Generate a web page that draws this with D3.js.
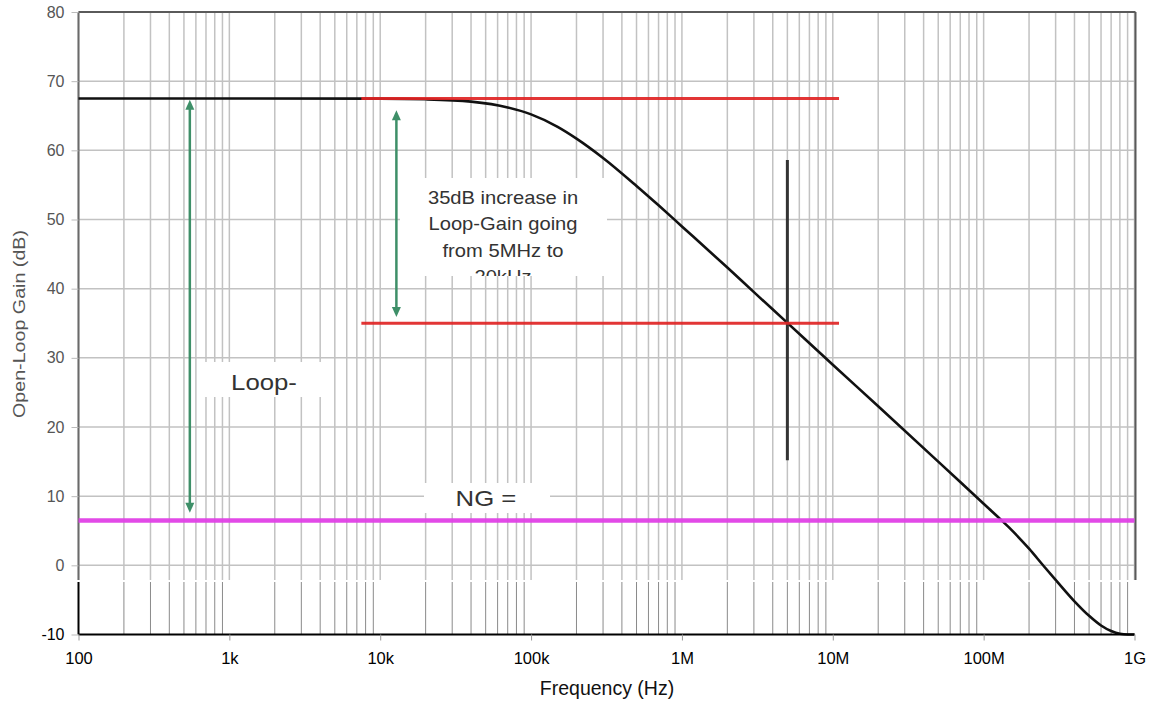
<!DOCTYPE html>
<html>
<head>
<meta charset="utf-8">
<script src="https://cdn.jsdelivr.net/npm/d3@7"></script>
<style>
  html, body { margin: 0; padding: 0; background: #fff; }
  svg { display: block; font-family: "Liberation Sans", Arial, sans-serif; }
</style>
</head>
<body>
<svg id="chart" width="1157" height="707"></svg>
<script>
// ---- data ----
const decadeTicks = [1e2, 1e3, 1e4, 1e5, 1e6, 1e7, 1e8, 1e9];
const decadeLabels = ["100", "1k", "10k", "100k", "1M", "10M", "100M", "1G"];
const yTicks = [-10, 0, 10, 20, 30, 40, 50, 60, 70, 80];
const yLabels = ["-10", "0", "10", "20", "30", "40", "50", "60", "70", "80"];

// open-loop gain curve
const curveFreq = [1e2, 1e3, 1e4, 2e4, 4e4, 7e4, 1e5, 1.5e5, 2e5, 3e5, 5e5, 7e5, 1e6, 2e6, 3e6, 5e6, 1e7, 2e7, 5e7, 1e8, 1.3e8, 1.5e8, 2e8, 2.5e8, 3e8, 4e8, 5e8, 6e8, 7e8, 8e8, 9e8, 1e9];
const curveGain = [67.5, 67.5, 67.47, 67.38, 67.04, 66.2, 65.2, 63.4, 61.7, 58.9, 54.85, 52.05, 49.0, 43.05, 39.5, 35.05, 29.0, 23.0, 15.0, 8.9, 6.6, 5.3, 2.4, -0.1, -2.1, -5.2, -7.3, -8.7, -9.5, -9.9, -10, -10];

// annotation values
const redLevels = [67.5, 35];
const redFreqRange = [7.5e3, 1.1e7];
const ngLevel = 6.5;
const markerFreq = 5e6;
const markerRange = [58.6, 15.2];
const arrows = [
  { freq: 547, top: 67.3, bottom: 7.6 },
  { freq: 1.28e4, top: 65.8, bottom: 35.9 }
];
const boxText = ["35dB increase in", "Loop-Gain going", "from 5MHz to", "20kHz"];
const loopText = "Loop-";
const ngText = "NG =";

// ---- scales ----
const svg = d3.select("#chart");
const x = d3.scaleLog().domain([1e2, 1e9]).range([78.5, 1134.5]);
const y = d3.scaleLinear().domain([-10, 80]).range([634.5, 12]);
const splitY = 580; // upper (gridded) / lower region boundary
const stretch = 1.12;

// minor frequencies
const minorFreqs = [];
for (let d = 2; d < 9; d++) {
  for (let m = 2; m <= 9; m++) minorFreqs.push(m * Math.pow(10, d));
}
const allGridFreqs = decadeTicks.concat(minorFreqs);

// ---- upper region grid ----
const grid = svg.append("g");
grid.selectAll("line.vg").data(allGridFreqs).join("line")
  .attr("x1", d => x(d)).attr("x2", d => x(d))
  .attr("y1", y(80)).attr("y2", splitY)
  .attr("stroke", "#c2c2c2").attr("stroke-width", 1.5);
grid.selectAll("line.hg").data(yTicks.filter(v => v >= 0)).join("line")
  .attr("x1", x(1e2)).attr("x2", x(1e9))
  .attr("y1", d => y(d)).attr("y2", d => y(d))
  .attr("stroke", "#c2c2c2").attr("stroke-width", 1.5);

// ---- lower region grid ----
grid.selectAll("line.lg").data(minorFreqs).join("line")
  .attr("x1", d => x(d)).attr("x2", d => x(d))
  .attr("y1", splitY + 2).attr("y2", y(-10))
  .attr("stroke", "#8a8a8a").attr("stroke-width", 1);

// ---- frame ----
svg.append("line").attr("x1", x(1e2)).attr("x2", x(1e9) + 1).attr("y1", y(80)).attr("y2", y(80))
  .attr("stroke", "#5a5a5a").attr("stroke-width", 2);
svg.append("line").attr("x1", x(1e9) + 1).attr("x2", x(1e9) + 1).attr("y1", y(80)).attr("y2", splitY)
  .attr("stroke", "#5a5a5a").attr("stroke-width", 2);
svg.append("line").attr("x1", x(1e2)).attr("x2", x(1e2)).attr("y1", y(80)).attr("y2", splitY)
  .attr("stroke", "#6a6a6a").attr("stroke-width", 2);
svg.append("line").attr("x1", x(1e2)).attr("x2", x(1e2)).attr("y1", splitY + 2).attr("y2", y(-10))
  .attr("stroke", "#000").attr("stroke-width", 2);

// ---- text boxes (white backgrounds) ----
const boxClip = svg.append("clipPath").attr("id", "boxclip");
boxClip.append("rect").attr("x", 400).attr("y", 178).attr("width", 207).attr("height", 98);
svg.append("rect").attr("x", 400).attr("y", 178).attr("width", 207).attr("height", 98).attr("fill", "#fff");
svg.append("rect").attr("x", 201).attr("y", 362).attr("width", 122).attr("height", 35).attr("fill", "#fff");
svg.append("rect").attr("x", 424).attr("y", 483).attr("width", 126).attr("height", 30).attr("fill", "#fff");

function stretchedText(parent, cx, by, size, str, fill) {
  return parent.append("text")
    .attr("transform", `translate(${cx},${by}) scale(${stretch},1)`)
    .attr("text-anchor", "middle").attr("font-size", size).attr("fill", fill)
    .text(str);
}
const bt = svg.append("g").attr("clip-path", "url(#boxclip)");
boxText.forEach((t, i) => stretchedText(bt, 503, 203.5 + i * 26.6, 18, t, "#333"));
stretchedText(svg, 264, 390, 23, loopText, "#333");
stretchedText(svg, 486, 506, 23, ngText, "#333");

// ---- gain curve ----
const pts = curveFreq.map((f, i) => [f, curveGain[i]]);
svg.append("path").datum(pts)
  .attr("d", d3.line().x(d => x(d[0])).y(d => y(d[1])).curve(d3.curveMonotoneX))
  .attr("fill", "none").attr("stroke", "#111").attr("stroke-width", 2.6);

// ---- vertical marker at 5 MHz ----
svg.append("line").attr("x1", x(markerFreq)).attr("x2", x(markerFreq))
  .attr("y1", y(markerRange[0])).attr("y2", y(markerRange[1]))
  .attr("stroke", "#333").attr("stroke-width", 3);

// ---- red reference lines ----
svg.selectAll("line.red").data(redLevels).join("line")
  .attr("x1", x(redFreqRange[0])).attr("x2", x(redFreqRange[1]))
  .attr("y1", d => y(d)).attr("y2", d => y(d))
  .attr("stroke", "#e02424").attr("stroke-width", 3).attr("stroke-opacity", 0.92);

// ---- NG line ----
svg.append("line").attr("x1", x(1e2)).attr("x2", x(1e9))
  .attr("y1", y(ngLevel)).attr("y2", y(ngLevel))
  .attr("stroke", "#e040e6").attr("stroke-width", 4.5).attr("stroke-opacity", 0.95);

// ---- green arrows ----
const green = "#3e8f68";
arrows.forEach(a => {
  const ax = x(a.freq), yt = y(a.top), yb = y(a.bottom);
  svg.append("line").attr("x1", ax).attr("x2", ax).attr("y1", yt + 8).attr("y2", yb - 8)
    .attr("stroke", green).attr("stroke-width", 2.5);
  svg.append("path").attr("d", `M${ax},${yt} L${ax - 4.5},${yt + 10} L${ax + 4.5},${yt + 10} Z`).attr("fill", green);
  svg.append("path").attr("d", `M${ax},${yb} L${ax - 4.5},${yb - 10} L${ax + 4.5},${yb - 10} Z`).attr("fill", green);
});

// ---- x axis ----
const xAxis = svg.append("g").attr("transform", `translate(0,${y(-10)})`)
  .call(d3.axisBottom(x).tickValues(decadeTicks).tickFormat((d, i) => decadeLabels[i]).tickSize(6).tickPadding(12));
xAxis.select(".domain").attr("stroke", "#000").attr("stroke-width", 2).attr("d", `M${x(1e2)},0H${x(1e9)}`);
xAxis.selectAll(".tick line").attr("stroke", "#999");
xAxis.selectAll(".tick text").attr("font-size", 16.5).attr("fill", "#000")
  .attr("font-family", "'Liberation Sans', Arial, sans-serif");

// ---- y axis ----
const yAxis = svg.append("g").attr("transform", `translate(${x(1e2)},0)`)
  .call(d3.axisLeft(y).tickValues(yTicks).tickFormat((d, i) => yLabels[i]).tickSize(7).tickPadding(7));
yAxis.select(".domain").remove();
yAxis.selectAll(".tick line").attr("stroke", "#bbb");
yAxis.selectAll(".tick text").attr("font-size", 16)
  .attr("fill", d => d < 0 ? "#000" : "#555")
  .attr("font-family", "'Liberation Sans', Arial, sans-serif");

// ---- axis titles ----
svg.append("text").attr("x", 607).attr("y", 695).attr("text-anchor", "middle")
  .attr("font-size", 19.5).attr("fill", "#111").text("Frequency (Hz)");
svg.append("text").attr("transform", "translate(25,324) rotate(-90)").attr("text-anchor", "middle")
  .attr("font-size", 16.5).attr("fill", "#555")
  .attr("textLength", 188).attr("lengthAdjust", "spacingAndGlyphs")
  .text("Open-Loop Gain (dB)");
</script>
</body>
</html>
